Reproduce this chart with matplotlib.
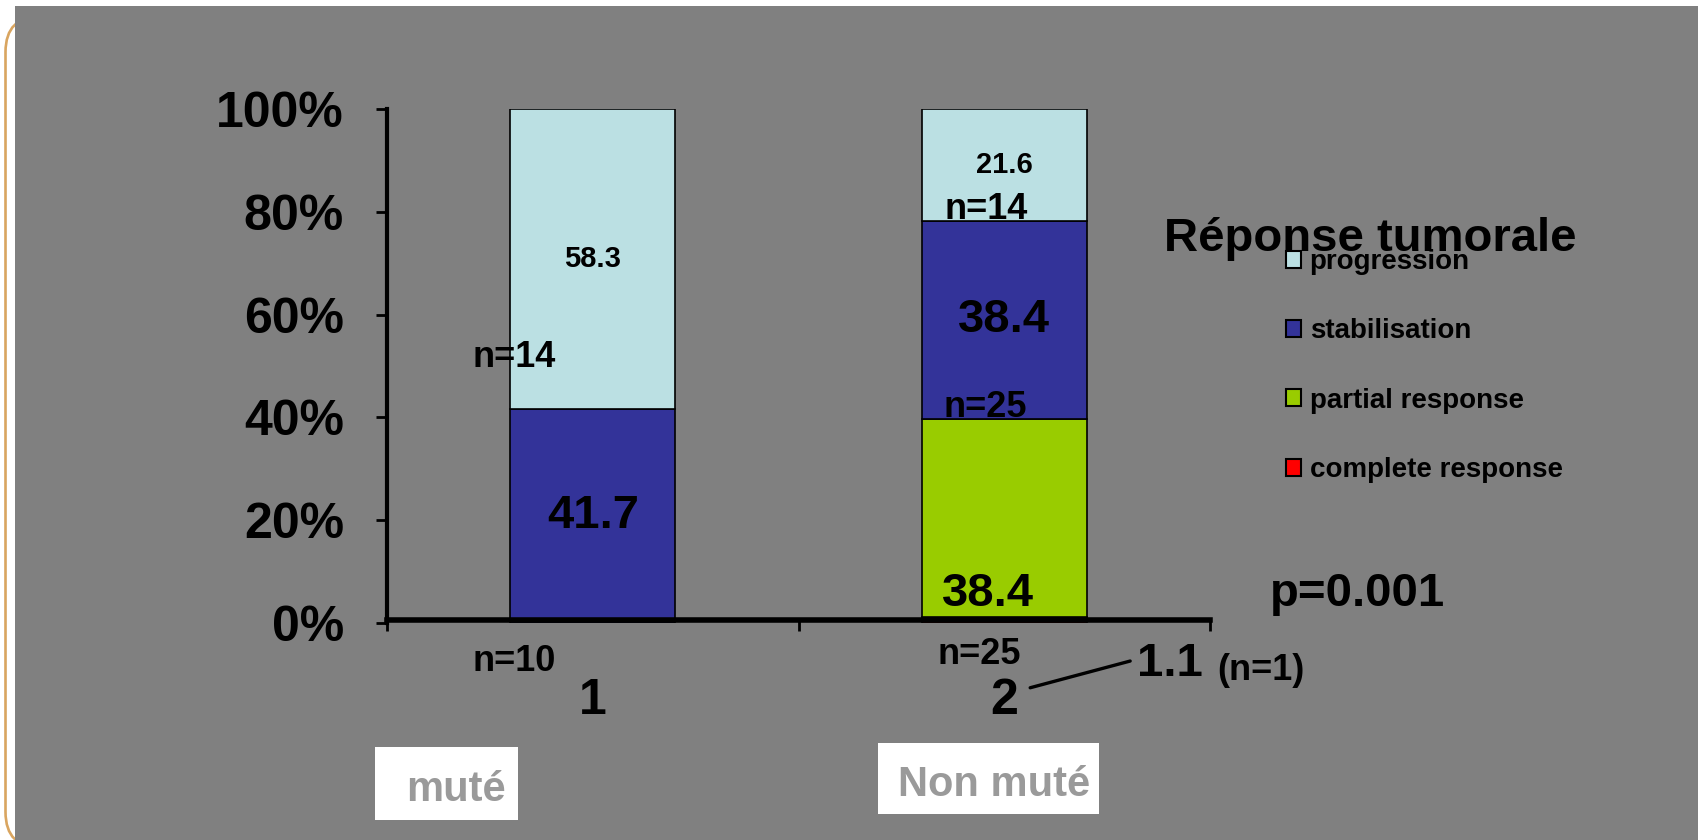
import numpy as np
import matplotlib
matplotlib.use("Agg")
import matplotlib.pyplot as plt
from matplotlib.patches import Rectangle, FancyBboxPatch
from matplotlib.transforms import IdentityTransform
from matplotlib.ticker import PercentFormatter, FixedLocator

plt.rcParams['font.family'] = ['Liberation Sans', 'DejaVu Sans']
plt.rcParams['font.weight'] = 'bold'

# ---- data -------------------------------------------------------------
categories = ['1', '2']
group_names = ['muté', 'Non muté']
n_groups = ['n=10', 'n=25']
series_names = ['complete response', 'partial response', 'stabilisation', 'progression']
complete_response = [0.0, 1.1]
partial_response = [0.0, 38.4]
stabilisation = [41.7, 38.4]
progression = [58.3, 21.6]
series_colors = ['#ff0000', '#99cc00', '#333399', '#bbe0e3']
p_value = 'p=0.001'
legend_title = 'Réponse tumorale'

W, H = 1698, 840
fig = plt.figure(figsize=(W / 100, H / 100), dpi=100)
fig.patch.set_facecolor('white')


def fx(px):
    return px / W


def fy(py):
    return 1 - py / H


# slide background: tan rounded frame and grey panel
frame = FancyBboxPatch((5.5, -8), 400, 832, boxstyle='round,pad=0,rounding_size=36',
                       transform=IdentityTransform(), facecolor='white',
                       edgecolor='#d9a560', linewidth=1.9, zorder=-3)
fig.add_artist(frame)
fig.add_artist(Rectangle((fx(15), 0), 1 - fx(15), fy(6), transform=fig.transFigure,
                         facecolor='#808080', edgecolor='none', zorder=-2))

# ---- stacked 100% bars ------------------------------------------------
ax = fig.add_axes([fx(387), fy(623), fx(1210) - fx(387), fy(109) - fy(623)])
ax.patch.set_visible(False)

values = np.array([complete_response, partial_response, stabilisation, progression])
totals = values.sum(axis=0)
shares = values / totals

x = np.arange(len(categories))
bottom = np.zeros(len(categories))
containers = []
for name, share, color in zip(series_names, shares, series_colors):
    bc = ax.bar(x, share, 0.4, bottom=bottom, color=color, edgecolor='black',
                linewidth=1.2, label=name)
    containers.append(bc)
    bottom = bottom + share
tops = np.cumsum(shares, axis=0)
mids = tops - shares / 2

ax.set_xlim(-0.5, 1.5)
ax.set_ylim(0, 1)
for side in ('top', 'right'):
    ax.spines[side].set_visible(False)
ax.spines['left'].set_linewidth(3)
# the heavy category axis sits over the thin bottom segment
ax.spines['bottom'].set_linewidth(4)
ax.spines['bottom'].set_position(('data', shares[0].max() / 2))

ax.set_yticks(np.linspace(0, 1, 6))
ax.yaxis.set_major_formatter(PercentFormatter(1.0, decimals=0))
ax.tick_params(axis='y', direction='out', length=8, width=2, pad=23, labelsize=36)

ax.set_xticks(x)
ax.set_xticklabels(categories)
ax.xaxis.set_minor_locator(FixedLocator([-0.5, 0.5, 1.5]))
ax.tick_params(axis='x', which='major', length=0, pad=42, labelsize=36)
ax.tick_params(axis='x', which='minor', direction='out', length=8, width=2)

# ---- value labels -------------------------------------------------------
# group 1
ax.text(x[0], mids[2, 0], f'{stabilisation[0]:.1f}', ha='center', va='center', fontsize=34)
ax.text(x[0], mids[3, 0], f'{progression[0]:.1f}', ha='center', va='center', fontsize=21)
ax.text(x[0] - 0.19, 0.5175, 'n=14', ha='center', va='center', fontsize=26)
# group 2
ax.text(x[1] - 0.04, 0.056, f'{partial_response[1]:.1f}', ha='center', va='center', fontsize=34)
ax.text(x[1], mids[2, 1], f'{stabilisation[1]:.1f}', ha='center', va='center', fontsize=34)
ax.text(x[1], mids[3, 1], f'{progression[1]:.1f}', ha='center', va='center', fontsize=21)
ax.text(x[1] - 0.045, tops[2, 1] + 0.003, 'n=14', ha='center', va='baseline', fontsize=26)
ax.text(x[1] - 0.045, tops[1, 1] + 0.003, 'n=25', ha='center', va='baseline', fontsize=26)

# group sizes under the axis
ax.text(x[0] - 0.19, -0.074, n_groups[0], ha='center', va='center', fontsize=26)
ax.text(x[1] - 0.06, -0.062, n_groups[1], ha='center', va='center', fontsize=26)

# complete response call-out
ax.annotate('', xy=(1.063, -0.126), xytext=(1.306, -0.074),
            arrowprops=dict(arrowstyle='-', lw=2.4, color='black', shrinkA=0, shrinkB=0),
            annotation_clip=False)
ax.text(1.403, -0.080, f'{complete_response[1]:.1f}', ha='center', va='center', fontsize=34)
ax.text(1.624, -0.093, '(n=1)', ha='center', va='center', fontsize=26)

# ---- legend -------------------------------------------------------------
handles = containers[::-1]
labels = series_names[::-1]
leg = fig.legend(handles, labels, loc='upper left', bbox_to_anchor=(fx(1286), fy(249)),
                 frameon=False, fontsize=20, handlelength=0.55, handleheight=0.55,
                 handletextpad=0.3, labelspacing=1.56, borderpad=0, borderaxespad=0)
for h in leg.legend_handles:
    h.set_linewidth(1.5)
fig.text(fx(1164), fy(251), legend_title, ha='left', va='baseline', fontsize=34)

fig.text(fx(1270), fy(606), p_value, ha='left', va='baseline', fontsize=34)

# ---- group name boxes ---------------------------------------------------
fig.add_artist(Rectangle((fx(375), fy(820)), fx(518) - fx(375), fy(747) - fy(820),
                         transform=fig.transFigure, facecolor='white', edgecolor='none'))
fig.add_artist(Rectangle((fx(878), fy(814)), fx(1099) - fx(878), fy(743) - fy(814),
                         transform=fig.transFigure, facecolor='white', edgecolor='none'))
fig.text(fx(456), fy(801), group_names[0], ha='center', va='baseline', fontsize=30, color='#9a9a9a')
fig.text(fx(994), fy(796), group_names[1], ha='center', va='baseline', fontsize=30, color='#9a9a9a')

fig.savefig('out.png', dpi=100)
